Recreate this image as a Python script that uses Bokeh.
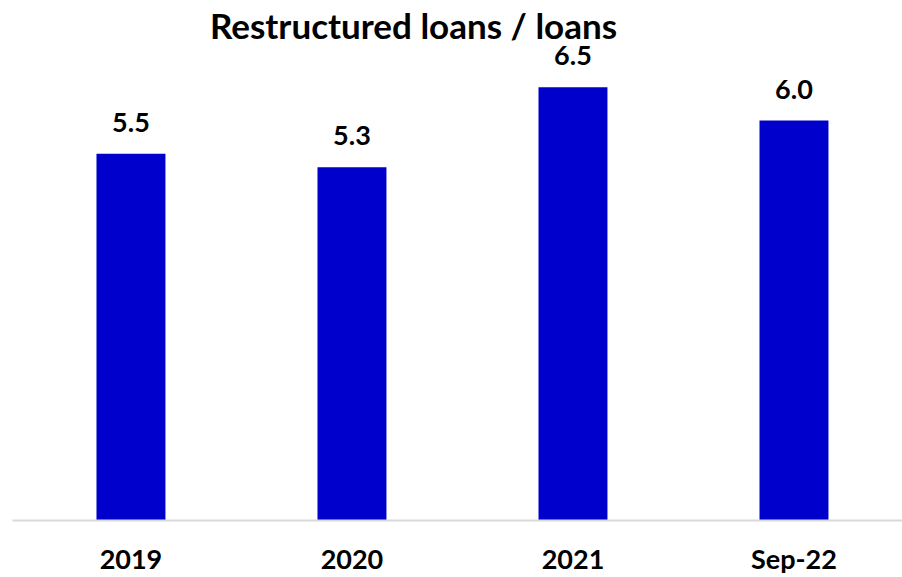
from bokeh.plotting import figure
from bokeh.models import ColumnDataSource, Range1d, FixedTicker, LabelSet, Label
from bokeh.core.properties import value
from bokeh.embed import file_html
from bokeh.resources import INLINE

categories = ["2019", "2020", "2021", "Sep-22"]
values = [5.5, 5.3, 6.5, 6.0]
value_labels = ["5.5", "5.3", "6.5", "6.0"]
title_text = "Restructured loans / loans"

FONT = "Lato"
idx = list(range(len(categories)))
src = ColumnDataSource(dict(x=idx, top=values, label=value_labels))

p = figure(width=902, height=577, output_backend="svg", toolbar_location=None,
           x_range=Range1d(-0.536, 3.491), y_range=Range1d(0, 7.8),
           min_border_left=12, min_border_right=0, min_border_top=0, min_border_bottom=57)
p.outline_line_color = None
p.grid.visible = False
p.yaxis.visible = False
p.background_fill_color = "white"
p.border_fill_color = "white"

p.vbar(x="x", top="top", width=0.312, bottom=0, source=src,
       fill_color="#0000CC", line_color=None)

labels = LabelSet(x="x", y="top", text="label", source=src, text_align="center",
                  text_baseline="alphabetic", y_offset=22, text_font=value(FONT),
                  text_font_style="bold", text_font_size="27px", text_color="#000000")
p.add_layout(labels)

ax = p.xaxis[0]
ax.ticker = FixedTicker(ticks=idx)
ax.major_label_overrides = {i: c for i, c in zip(idx, categories)}
ax.major_tick_line_color = None
ax.minor_tick_line_color = None
ax.axis_line_color = "#D9D9D9"
ax.axis_line_width = 2
ax.major_label_text_font = FONT
ax.major_label_text_font_style = "bold"
ax.major_label_text_font_size = "27px"
ax.major_label_text_color = "#000000"
ax.major_label_standoff = 15

title = Label(x=401, y=496, x_units="screen", y_units="screen", text=title_text,
              text_align="center", text_baseline="alphabetic", text_font=FONT,
              text_font_style="bold", text_font_size="35px", text_color="#000000")
p.add_layout(title)

open("out.html", "w").write(file_html(p, INLINE))
